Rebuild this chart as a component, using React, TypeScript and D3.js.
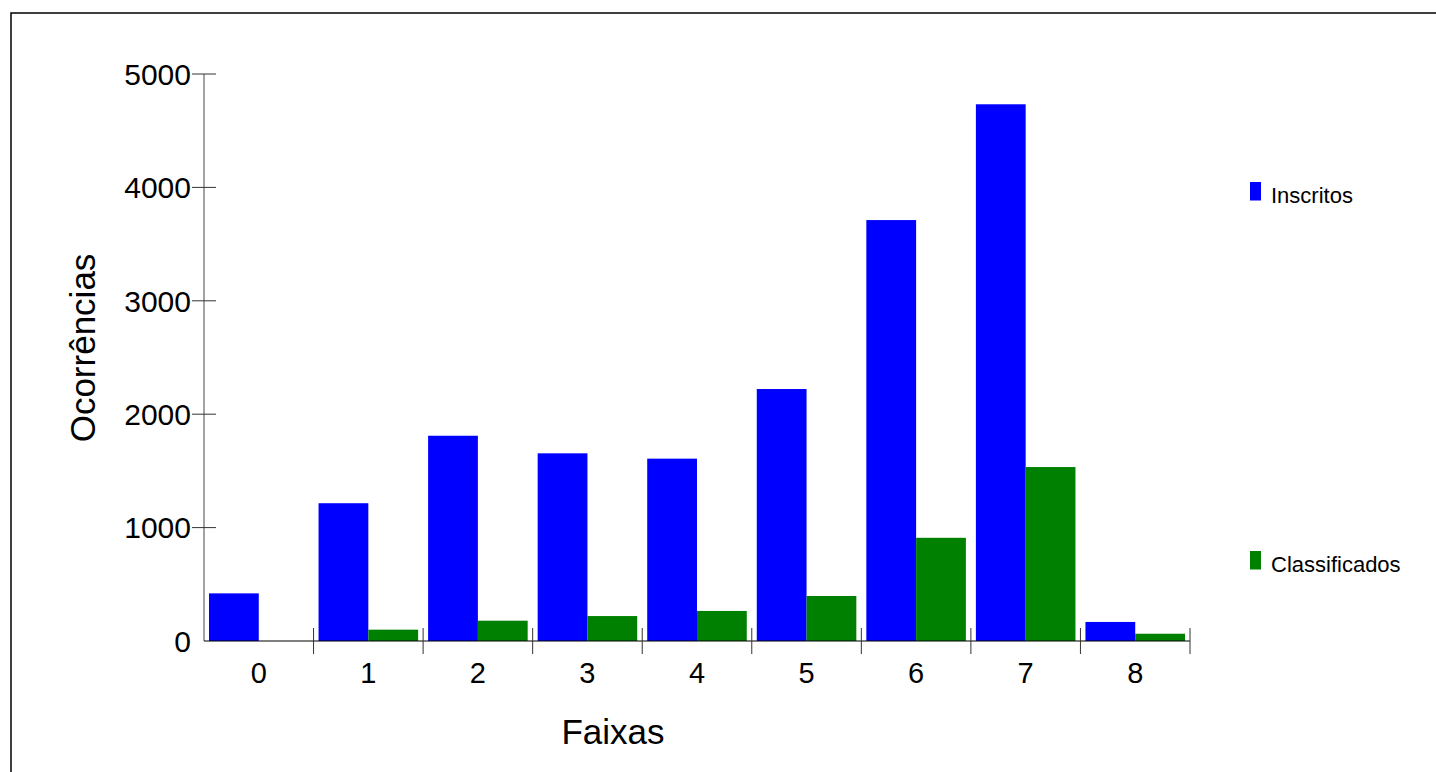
import React from "react";
import * as d3 from "d3";

const categories = ["0", "1", "2", "3", "4", "5", "6", "7", "8"];
const seriesNames = ["Inscritos", "Classificados"];
const inscritos = [420, 1215, 1810, 1655, 1608, 2222, 3712, 4733, 168];
const classificados = [0, 100, 179, 220, 265, 397, 910, 1534, 64];
const yTicks = [0, 1000, 2000, 3000, 4000, 5000];
const colors = ["#0000ff", "#008000"];
const xTitle = "Faixas";
const yTitle = "Ocorrências";

const FONT = "'Liberation Sans', Arial, Helvetica, sans-serif";

export default function App() {
  const W = 1436;
  const H = 772;
  const left = 204;
  const right = 1190;
  const top = 74;
  const bottom = 641;

  const x0 = d3.scaleBand<string>().domain(categories).range([left, right]).padding(0);
  const bw = x0.bandwidth();
  const x1 = d3.scaleBand<string>().domain(seriesNames).range([5, bw - 5]).padding(0);
  const y = d3.scaleLinear().domain([0, 5000]).range([bottom, top]);

  const values = [inscritos, classificados];
  const boundaries = categories.map((c) => (x0(c) as number) + bw);

  return (
    <div style={{ position: "fixed", left: 0, top: 0, width: W, height: H, background: "#fff" }}>
      <svg width={W} height={H} style={{ display: "block" }} fontFamily={FONT}>
        <rect x={11} y={13} width={W + 20} height={H + 20} fill="#fff" stroke="#000" strokeWidth={1.5} />
        {/* bars */}
        {categories.map((c, i) => (
          <g key={c} transform={`translate(${x0(c)},0)`}>
            {seriesNames.map((s, j) => (
              <rect
                key={s}
                x={x1(s) as number}
                y={y(values[j][i])}
                width={x1.bandwidth()}
                height={bottom - y(values[j][i])}
                fill={colors[j]}
              />
            ))}
          </g>
        ))}
        {/* y axis */}
        <line x1={left} x2={left} y1={top} y2={bottom} stroke="#666" strokeWidth={1.2} />
        {yTicks.map((t) => (
          <g key={t}>
            {t !== 0 && (
              <line x1={left - 12} x2={left + 12} y1={y(t)} y2={y(t)} stroke="#333" strokeWidth={1} />
            )}
            <text x={191} y={y(t)} dy="0.36em" textAnchor="end" fontSize={30} fill="#000">
              {t}
            </text>
          </g>
        ))}
        {/* x axis */}
        <line x1={left} x2={right} y1={bottom} y2={bottom} stroke="#000" strokeWidth={1.2} />
        {boundaries.map((b, i) => (
          <line key={i} x1={b} x2={b} y1={bottom - 13} y2={bottom + 13} stroke="#333" strokeWidth={1} />
        ))}
        {categories.map((c) => (
          <text
            key={c}
            x={(x0(c) as number) + bw / 2}
            y={683}
            textAnchor="middle"
            fontSize={29}
            fill="#000"
          >
            {c}
          </text>
        ))}
        {/* titles */}
        <text x={613} y={744} textAnchor="middle" fontSize={35} fill="#000">
          {xTitle}
        </text>
        <text
          transform={`translate(95,348) rotate(-90)`}
          textAnchor="middle"
          fontSize={35}
          fill="#000"
        >
          {yTitle}
        </text>
        {/* legend */}
        {seriesNames.map((s, j) => {
          const ly = j === 0 ? 182 : 551;
          return (
            <g key={s}>
              <rect x={1250} y={ly} width={11} height={18.5} fill={colors[j]} />
              <text x={1271} y={ly + 20.5} fontSize={22} fill="#000">
                {s}
              </text>
            </g>
          );
        })}
      </svg>
    </div>
  );
}
